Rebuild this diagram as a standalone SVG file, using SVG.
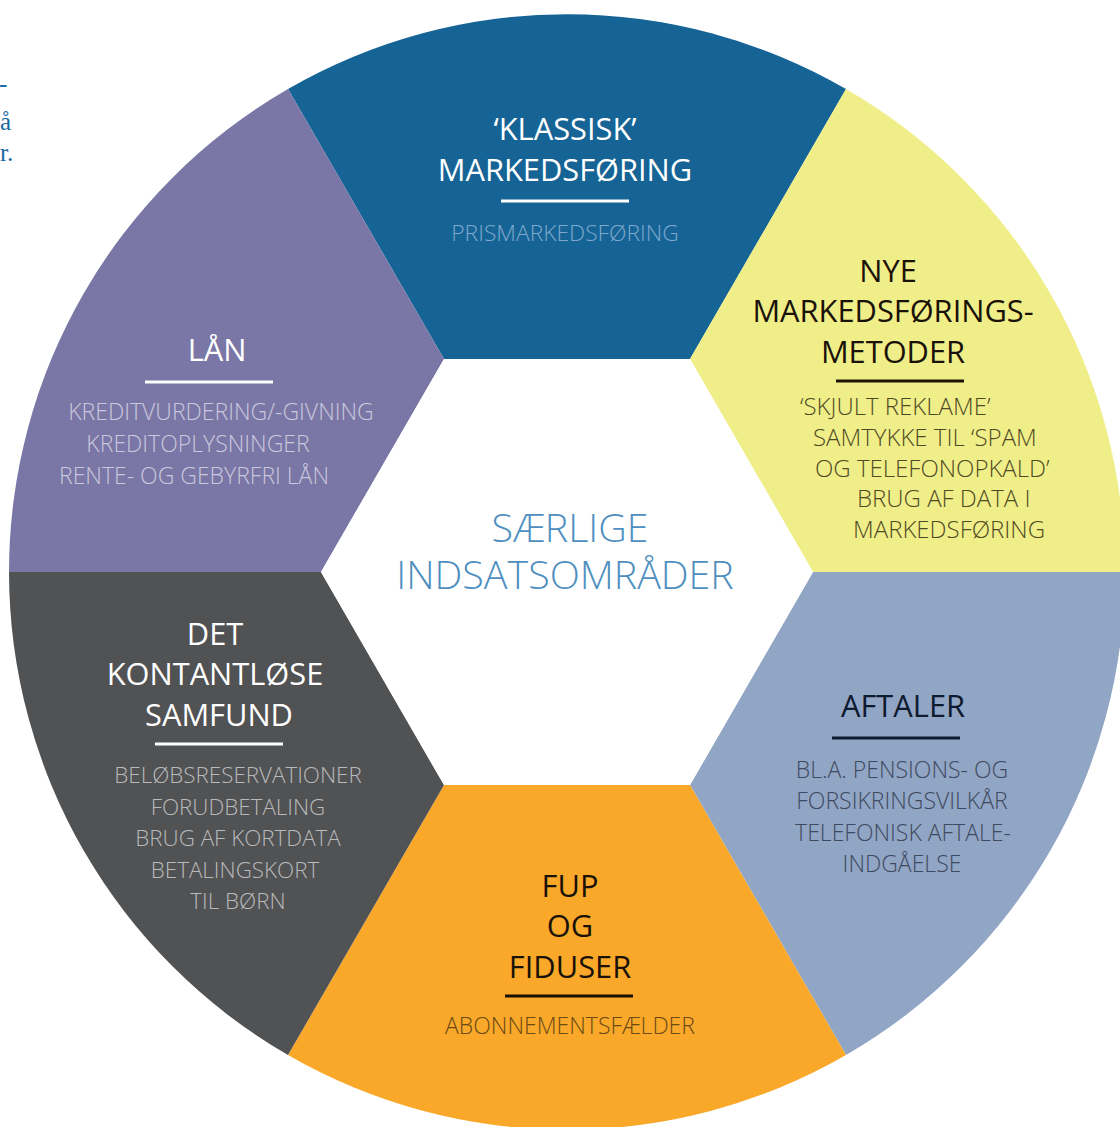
<svg xmlns="http://www.w3.org/2000/svg" width="1120" height="1127" viewBox="0 0 1120 1127">
<style>
.t{font-family:"Open Sans","Noto Sans","Liberation Sans",sans-serif;font-size:30.8px;text-anchor:middle}
.s{font-family:"Open Sans","Noto Sans","Liberation Sans",sans-serif;font-size:23px;font-weight:300;text-anchor:middle}
.w{fill:#ffffff}
.k{fill:#1a1208}
.ul{stroke-width:3}
</style>
<rect width="1120" height="1127" fill="#ffffff"/>
<g id="side-text" font-family="Liberation Serif, serif" font-size="25" fill="#1a6aa0">
<text x="-1" y="92">-</text>
<text x="0" y="130">å</text>
<text x="0" y="161">r.</text>
</g>
<g id="segments">
<g id="klassisk">
<path d="M444,359 L288,89 A558,558 0 0 1 846,89 L690,359 Z" fill="#166496"/>
<text class="t w" x="565" y="140">‘KLASSISK’</text>
<text class="t w" x="565" y="181">MARKEDSFØRING</text>
<line class="ul" x1="501" y1="201" x2="629" y2="201" stroke="#ffffff"/>
<text class="s" x="565" y="241" fill="#7fa8cc" style="font-size:22.8px">PRISMARKEDSFØRING</text>
</g>
<g id="nye">
<path d="M690,359 L846,89 A558,558 0 0 1 1125,572 L813,572 Z" fill="#f0ee88"/>
<text class="t k" x="888" y="282">NYE</text>
<text class="t k" x="893" y="322">MARKEDSFØRINGS-</text>
<text class="t k" x="893" y="363">METODER</text>
<line class="ul" x1="836" y1="381" x2="964" y2="381" stroke="#1f1408"/>
<g class="s" fill="#4f4a25" style="text-anchor:start;font-size:24px">
<text x="800" y="415">‘SKJULT REKLAME’</text>
<text x="813" y="446">SAMTYKKE TIL ‘SPAM</text>
<text x="815" y="477">OG TELEFONOPKALD’</text>
<text x="857" y="507">BRUG AF DATA I</text>
<text x="853" y="538">MARKEDSFØRING</text>
</g>
</g>
<g id="aftaler">
<path d="M813,572 L1125,572 A558,558 0 0 1 846,1055 L690,785 Z" fill="#91a5c5"/>
<text class="t" x="903" y="717" fill="#0e1a2e">AFTALER</text>
<line class="ul" x1="832" y1="738" x2="960" y2="738" stroke="#0e1a2e"/>
<g class="s" fill="#3e4a60">
<text x="902" y="778">BL.A. PENSIONS- OG</text>
<text x="902" y="809">FORSIKRINGSVILKÅR</text>
<text x="903" y="841">TELEFONISK AFTALE-</text>
<text x="902" y="872">INDGÅELSE</text>
</g>
</g>
<g id="fup">
<path d="M690,785 L846,1055 A558,558 0 0 1 288,1055 L444,785 Z" fill="#f9a82a"/>
<text class="t k" x="570" y="897">FUP</text>
<text class="t k" x="570" y="937">OG</text>
<text class="t k" x="570" y="978">FIDUSER</text>
<line class="ul" x1="505" y1="996" x2="633" y2="996" stroke="#1a1208"/>
<text class="s" x="570" y="1034" fill="#6b4a14">ABONNEMENTSFÆLDER</text>
</g>
<g id="kontantlose">
<path d="M444,785 L288,1055 A558,558 0 0 1 9,572 L321,572 Z" fill="#515254"/>
<text class="t w" x="215" y="645">DET</text>
<text class="t w" x="215" y="685">KONTANTLØSE</text>
<text class="t w" x="219" y="726">SAMFUND</text>
<line class="ul" x1="155" y1="744" x2="283" y2="744" stroke="#ffffff"/>
<g class="s" fill="#b9babb" style="font-size:22.4px">
<text x="238" y="783">BELØBSRESERVATIONER</text>
<text x="238" y="815">FORUDBETALING</text>
<text x="238" y="846">BRUG AF KORTDATA</text>
<text x="235" y="878">BETALINGSKORT</text>
<text x="238" y="909">TIL BØRN</text>
</g>
</g>
<g id="laan">
<path d="M321,572 L9,572 A558,558 0 0 1 288,89 L444,359 Z" fill="#7a76a5"/>
<text class="t w" x="217" y="361">LÅN</text>
<line class="ul" x1="145" y1="382" x2="273" y2="382" stroke="#ffffff"/>
<g class="s" fill="#cac8de">
<text x="221" y="420">KREDITVURDERING/-GIVNING</text>
<text x="198" y="452">KREDITOPLYSNINGER</text>
<text x="194" y="484">RENTE- OG GEBYRFRI LÅN</text>
</g>
</g>
</g>
<g id="center">
<path d="M444,359 L690,359 L813,572 L690,785 L444,785 L321,572 Z" fill="#ffffff"/>
<g font-family="Open Sans, Noto Sans, Liberation Sans, sans-serif" font-size="39.4" font-weight="300" fill="#4f8fbf" text-anchor="middle">
<text x="570" y="542">SÆRLIGE</text>
<text x="565" y="589">INDSATSOMRÅDER</text>
</g>
</g>
<g id="connectors"/>
</svg>
